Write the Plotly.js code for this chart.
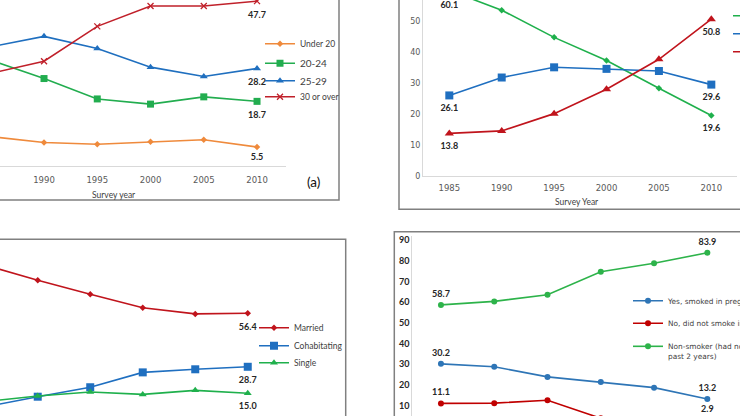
<!DOCTYPE html>
<html><head><meta charset="utf-8">
<script src="https://cdn.plot.ly/plotly-3.0.1.min.js"></script>
<style>html,body{margin:0;padding:0;background:#fff;overflow:hidden;width:740px;height:416px;position:relative}
#chart{position:absolute;left:-30px;top:-30px;width:800px;height:476px}</style>
</head><body><div id="chart"></div>
<script>
// ---------- data ----------
const years = [1985, 1990, 1995, 2000, 2005, 2010];
const xTicksA = [1990, 1995, 2000, 2005, 2010];

// (a) age groups
const ageNames = ["Under 20", "20-24", "25-29", "30 or over"];
const ageUnder20 = [8.5, 6.8, 6.3, 7.0, 7.6, 5.5];
const age20to24 = [30.6, 25.3, 19.4, 17.9, 20.0, 18.7];
const age25to29 = [34.5, 37.5, 34.0, 28.6, 25.9, 28.2];
const age30plus = [26.8, 30.3, 40.4, 46.3, 46.3, 47.7];

// (b) three series (legend text lies outside the visible crop)
const panelBNames = ["Married", "Cohabiting", "Single"];
const panelBGreen = [60.1, 53.7, 44.9, 37.4, 28.4, 19.6];
const panelBBlue = [26.1, 31.9, 35.2, 34.7, 34.0, 29.6];
const panelBRed = [13.8, 14.6, 20.2, 28.1, 37.8, 50.8];

// (c) relationship status
const statusNames = ["Married", "Cohabitating", "Single"];
const married = [81.4, 73.5, 66.3, 59.3, 56.1, 56.4];
const cohabitating = [7.9, 13.2, 18.1, 25.8, 27.4, 28.7];
const single = [10.7, 13.6, 15.6, 14.4, 16.5, 15.0];

// (d) smoking
const smokeNames = ["Yes, smoked in pregnancy", "No, did not smoke in pregnancy",
  "Non-smoker (had not smoked in<br>past 2 years)"];
const smokedYes = [30.2, 28.8, 23.9, 21.4, 18.7, 13.2];
const smokedNo = [11.1, 11.2, 12.6, 3.9, 2.5, 2.9];
const nonSmoker = [58.7, 60.4, 63.6, 74.7, 78.8, 83.9];

const yTicksD = [10, 20, 30, 40, 50, 60, 70, 80, 90];
const yTicksB = [0, 10, 20, 30, 40, 50];

// ---------- helpers ----------
// the figure is drawn 30px larger on every side; the window shows the central 740x416 crop
const PAD = 30, W = 740 + 2 * PAD, H = 416 + 2 * PAD;
const fx = p => (p + PAD) / W;
const fy = p => 1 - (p + PAD) / H;

const LABEL_FONT = {family: "Lato, sans-serif", size: 9, color: "#262626", weight: "bold"};

function series(ax, name, yv, color, symbol, size, legendId, mline) {
  return {
    type: "scatter", mode: "lines+markers",
    x: years, y: yv, name: name,
    xaxis: "x" + ax, yaxis: "y" + ax,
    line: {color: color, width: 1.6},
    marker: {color: color, symbol: symbol, size: size, line: mline || {width: 0}},
    cliponaxis: false, legend: legendId, showlegend: true, hoverinfo: "skip"
  };
}
// value labels: a text trace whose (invisible) marker size sets the label offset
function labels(ax, yv, idx, pos, gap) {
  return {
    type: "scatter", mode: "markers+text",
    x: idx.map(i => years[i]), y: idx.map(i => yv[i]),
    text: idx.map(i => yv[i].toFixed(1)),
    xaxis: "x" + ax, yaxis: "y" + ax,
    marker: {size: gap, color: "rgba(0,0,0,0)"},
    textposition: pos, textfont: LABEL_FONT,
    cliponaxis: false, showlegend: false, hoverinfo: "skip"
  };
}

const traces = [
  series("", ageNames[0], ageUnder20, "#ef8a3c", "diamond", 5, "legend"),
  series("", ageNames[1], age20to24, "#22ad4f", "square", 7, "legend2"),
  series("", ageNames[2], age25to29, "#1f6fbf", "triangle-up", 7, "legend3"),
  series("", ageNames[3], age30plus, "#c0202a", "x-thin", 6, "legend4", {width: 1.3, color: "#c0202a"}),

  series("2", panelBNames[0], panelBGreen, "#1fb04c", "diamond", 5, "legend5"),
  series("2", panelBNames[1], panelBBlue, "#1f6fc0", "square", 8, "legend6"),
  series("2", panelBNames[2], panelBRed, "#c0141c", "triangle-up", 8, "legend7"),

  series("3", statusNames[0], married, "#c0141c", "diamond", 5, "legend8"),
  series("3", statusNames[1], cohabitating, "#1f6fc0", "square", 8, "legend9"),
  series("3", statusNames[2], single, "#1fb04c", "triangle-up", 7, "legend10"),

  series("4", smokeNames[0], smokedYes, "#2e75b6", "circle", 6, "legend11"),
  series("4", smokeNames[1], smokedNo, "#c00000", "circle", 6, "legend12"),
  series("4", smokeNames[2], nonSmoker, "#2db34a", "circle", 6, "legend13"),

  labels("", ageUnder20, [5], "bottom center", 9),
  labels("", age20to24, [5], "bottom center", 14),
  labels("", age25to29, [5], "bottom center", 14),
  labels("", age30plus, [5], "bottom center", 14),
  labels("2", panelBGreen, [0], "bottom center", 16),
  labels("2", panelBGreen, [5], "bottom center", 13),
  labels("2", panelBBlue, [0, 5], "bottom center", 13),
  labels("2", panelBRed, [0, 5], "bottom center", 13),
  labels("3", married, [5], "bottom center", 14),
  labels("3", cohabitating, [5], "bottom center", 13),
  labels("3", single, [5], "bottom center", 13),
  labels("4", smokedYes, [0, 5], "top center", 7.5),
  labels("4", smokedNo, [0, 5], "top center", 7.5),
  labels("4", nonSmoker, [0, 5], "top center", 7.5)
];

function leg(xpx, ypx, font, extra) {
  return Object.assign({
    x: fx(xpx), y: fy(ypx), xanchor: "left", yanchor: "middle",
    bgcolor: "rgba(0,0,0,0)", borderwidth: 0, font: font
  }, extra || {});
}
const fA = {family: "Lato, sans-serif", size: 8.5, color: "#404040"};
const fA2 = {family: "Lato, sans-serif", size: 10, color: "#404040"};
const fC = {family: "Lato, sans-serif", size: 8.5, color: "#404040"};
const fD = {family: "DejaVu Sans, sans-serif", size: 7.4, color: "#404040"};

const tickGray = {family: "DejaVu Sans, sans-serif", size: 8.5, color: "#595959"};
const hidden = {showline: false, showgrid: false, zeroline: false, showticklabels: false, ticks: ""};

const frame = (x0, x1, y0, y1) => ({
  type: "rect", xref: "paper", yref: "paper", x0: x0, x1: x1, y0: y0, y1: y1,
  line: {color: "#808080", width: 1.5}, fillcolor: "rgba(0,0,0,0)", layer: "below"
});

const layout = {
  width: W, height: H,
  margin: {l: 0, r: 0, t: 0, b: 0, pad: 0, autoexpand: false},
  paper_bgcolor: "#ffffff", plot_bgcolor: "rgba(0,0,0,0)",
  hovermode: false, showlegend: true,

  xaxis: {domain: [fx(-30), fx(286)], range: [1983.05, 2012.72], tickvals: xTicksA, anchor: "y",
    showline: true, linecolor: "#d9d9d9", linewidth: 1, showgrid: false, zeroline: false,
    ticks: "", ticklabelstandoff: 6, tickfont: tickGray},
  yaxis: Object.assign({domain: [fy(166), fy(-30)], range: [0, 56.7], anchor: "x"}, hidden),

  xaxis2: {domain: [fx(423), fx(737)], range: [1982.49, 2012.45], tickvals: years, anchor: "y2",
    showline: true, linecolor: "#d9d9d9", linewidth: 1, showgrid: false, zeroline: false,
    ticks: "", ticklabelstandoff: 4, tickfont: tickGray},
  yaxis2: {domain: [fy(176), fy(-30)], range: [0, 66.72], tickvals: yTicksB, anchor: "x2",
    showline: true, linecolor: "#d9d9d9", linewidth: 1, showgrid: false, zeroline: false,
    ticks: "", tickfont: {family: "DejaVu Sans, sans-serif", size: 8, color: "#595959"}},

  xaxis3: Object.assign({domain: [fx(-30), fx(274)], range: [1983.55, 2012.5], anchor: "y3"}, hidden),
  yaxis3: Object.assign({domain: [fy(446), fy(250)], range: [-12.34, 89.2], anchor: "x3"}, hidden),

  xaxis4: Object.assign({domain: [fx(412.3), fx(736)], range: [1982.31, 2012.69], anchor: "y4"}, hidden),
  yaxis4: {domain: [fy(446), fy(236)], range: [-9.5, 92.0], tickvals: yTicksD, anchor: "x4",
    showline: true, linecolor: "#d9d9d9", linewidth: 1, showgrid: false, zeroline: false,
    ticks: "", tickfont: {family: "Lato, sans-serif", size: 9, color: "#262626", weight: "bold"}},

  legend: leg(260, 43.7, fA),
  legend2: leg(260, 63.3, fA2),
  legend3: leg(260, 80.7, fA2),
  legend4: leg(260, 96.7, fA),
  legend5: leg(728, 15.7, fA),
  legend6: leg(728, 33.7, fA),
  legend7: leg(728, 51.7, fA),
  legend8: leg(254, 327.7, fC),
  legend9: leg(254, 345.7, fC),
  legend10: leg(254, 362.7, fC),
  legend11: leg(628, 300.7, fD),
  legend12: leg(628, 323.3, fD),
  legend13: leg(628, 351.5, fD, {valign: "top"}),

  shapes: [
    frame(-0.05, fx(339), fy(200), 1.05),
    frame(fx(399), 1.05, fy(209.3), 1.05),
    frame(-0.05, fx(345.7), -0.05, fy(239.3)),
    frame(fx(394.3), 1.05, -0.05, fy(231.7))
  ],
  annotations: [
    {text: "Survey year", xref: "paper", yref: "paper", x: fx(114), y: fy(195), showarrow: false,
      xanchor: "center", yanchor: "middle", font: {family: "Lato, sans-serif", size: 8.5, color: "#404040"}},
    {text: "Survey Year", xref: "paper", yref: "paper", x: fx(576.7), y: fy(202.3), showarrow: false,
      xanchor: "center", yanchor: "middle", font: {family: "Lato, sans-serif", size: 8.5, color: "#404040"}},
    {text: "(a)", xref: "paper", yref: "paper", x: fx(313), y: fy(182), showarrow: false,
      xanchor: "center", yanchor: "middle", font: {family: "Lato, sans-serif", size: 13.5, color: "#111111"}}
  ]
};

Plotly.newPlot("chart", traces, layout, {staticPlot: true, displayModeBar: false});
</script>
</body></html>
